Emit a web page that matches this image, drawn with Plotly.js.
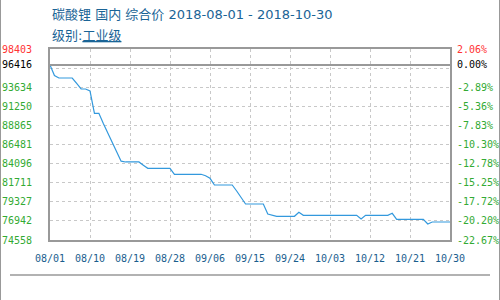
<!DOCTYPE html>
<html>
<head>
<meta charset="utf-8">
<script src="https://cdn.plot.ly/plotly-3.0.1.min.js"></script>
<style>
html,body{margin:0;padding:0;background:#fff;}
#wrap{position:relative;width:500px;height:300px;}
#chart{width:500px;height:300px;}
#frame{position:absolute;left:0;top:0;width:498px;height:300px;border-left:1px solid #999;border-right:1px solid #999;pointer-events:none;}
</style>
</head>
<body>
<div id="wrap"><div id="chart"></div><div id="frame"></div></div>
<script>
const basePrice = 96416;
const dates = [
"2018-08-01","2018-08-02","2018-08-03","2018-08-04","2018-08-05","2018-08-06","2018-08-07","2018-08-08","2018-08-09","2018-08-10",
"2018-08-11","2018-08-12","2018-08-13","2018-08-14","2018-08-15","2018-08-16","2018-08-17","2018-08-18","2018-08-19","2018-08-20",
"2018-08-21","2018-08-22","2018-08-23","2018-08-24","2018-08-25","2018-08-26","2018-08-27","2018-08-28","2018-08-29","2018-08-30",
"2018-08-31","2018-09-01","2018-09-02","2018-09-03","2018-09-04","2018-09-05","2018-09-06","2018-09-07","2018-09-08","2018-09-09",
"2018-09-10","2018-09-11","2018-09-12","2018-09-13","2018-09-14","2018-09-15","2018-09-16","2018-09-17","2018-09-18","2018-09-19",
"2018-09-20","2018-09-21","2018-09-22","2018-09-23","2018-09-24","2018-09-25","2018-09-26","2018-09-27","2018-09-28","2018-09-29",
"2018-09-30","2018-10-01","2018-10-02","2018-10-03","2018-10-04","2018-10-05","2018-10-06","2018-10-07","2018-10-08","2018-10-09",
"2018-10-10","2018-10-11","2018-10-12","2018-10-13","2018-10-14","2018-10-15","2018-10-16","2018-10-17","2018-10-18","2018-10-19",
"2018-10-20","2018-10-21","2018-10-22","2018-10-23","2018-10-24","2018-10-25","2018-10-26","2018-10-27","2018-10-28","2018-10-29",
"2018-10-30"];
const prices = [
96416,95100,94782,94782,94782,94782,94100,93409,93409,93159,
90375,90375,89114,87966,86817,85656,84400,84300,84300,84300,
84300,83900,83509,83509,83509,83509,83509,83509,82760,82760,
82760,82760,82760,82760,82760,82585,82260,81424,81424,81424,
81424,81424,80675,79801,79052,79052,79052,79052,79052,77804,
77617,77517,77517,77517,77517,77517,78016,77642,77642,77642,
77642,77642,77642,77642,77642,77642,77642,77642,77642,77642,
77180,77642,77642,77642,77642,77642,77642,77891,77142,77142,
77142,77142,77142,77142,77142,76555,76805,76805,76805,76805,
76805];

const xTickVals = ["2018-08-01","2018-08-10","2018-08-19","2018-08-28","2018-09-06","2018-09-15","2018-09-24","2018-10-03","2018-10-12","2018-10-21","2018-10-30"];
const xTickText = ["08/01","08/10","08/19","08/28","09/06","09/15","09/24","10/03","10/12","10/21","10/30"];
const yTickVals = [98403,96416,93634,91250,88865,86481,84096,81711,79327,76942,74558];
const pctTickText = ["2.06%","0.00%","-2.89%","-5.36%","-7.83%","-10.30%","-12.78%","-15.25%","-17.72%","-20.20%","-22.67%"];
const gridVals = [74558,76942,79327,81711,84096,86481,88865,91250,93634,96019,98403];
const yMin = 74558, yMax = 98403;

function colorFor(i, v){
  if (i === 0) return '#ff3333';
  if (v === basePrice) return '#000000';
  return '#33aa33';
}
const leftText = yTickVals.map((v,i)=>'<span style="color:'+colorFor(i,v)+'">'+v+'</span>');
const rightText = yTickVals.map((v,i)=>'<span style="color:'+colorFor(i,v)+'">'+pctTickText[i]+'</span>');

const monoFont = {family:'"DejaVu Sans Mono", monospace', size:10, color:'#33aa33'};

const trace = {
  x: dates, y: prices, type:'scatter', mode:'lines',
  line:{color:'#3399dd', width:1.2}, hoverinfo:'none', showlegend:false
};

const titleFont = {family:'"DejaVu Sans", "Noto Sans CJK SC", sans-serif', size:13, color:'#1a6496'};

const layout = {
  width:500, height:300,
  margin:{l:50, r:50, t:49, b:60, pad:0},
  paper_bgcolor:'#ffffff', plot_bgcolor:'#ffffff',
  showlegend:false,
  title:{text:''},
  xaxis:{
    type:'date', range:['2018-08-01','2018-10-30'],
    tickmode:'array', tickvals:xTickVals, ticktext:xTickText,
    tickfont:{family:'"DejaVu Sans Mono", monospace', size:10, color:'#1a5e8e'},
    showgrid:true, gridcolor:'#c8c8c8', gridwidth:1, griddash:'3px,3px',
    showline:true, linecolor:'#999999', linewidth:2, mirror:true,
    ticks:'outside', ticklen:8, tickcolor:'rgba(0,0,0,0)',
    zeroline:false, fixedrange:true
  },
  yaxis:{
    range:[yMin,yMax], tickmode:'array', tickvals:yTickVals, ticktext:leftText,
    tickfont:monoFont, showgrid:false,
    showline:true, linecolor:'#999999', linewidth:2,
    ticks:'outside', ticklen:14, tickcolor:'rgba(0,0,0,0)',
    zeroline:false, fixedrange:true
  },
  yaxis2:{
    overlaying:'y', side:'right', range:[yMin,yMax],
    tickmode:'array', tickvals:yTickVals, ticktext:rightText,
    tickfont:monoFont, showgrid:false,
    showline:true, linecolor:'#999999', linewidth:2,
    ticks:'outside', ticklen:3, tickcolor:'rgba(0,0,0,0)',
    zeroline:false, fixedrange:true
  },
  yaxis3:{
    overlaying:'y', range:[yMin,yMax], tickmode:'array', tickvals:gridVals,
    showticklabels:false, showgrid:true, gridcolor:'#c8c8c8', gridwidth:1, griddash:'3px,3px',
    showline:false, zeroline:false, ticks:'', fixedrange:true
  },
  shapes:[
    {type:'line', xref:'paper', yref:'y', x0:0, x1:1, y0:basePrice, y1:basePrice,
     line:{color:'#999999', width:2}},
    {type:'line', xref:'paper', yref:'paper', x0:-0.1, x1:1.1, y0:-35/191, y1:-35/191,
     line:{color:'#999999', width:1.5}}
  ],
  annotations:[
    {xref:'paper', yref:'paper', x:0, y:(240-15)/191, xanchor:'left', yanchor:'middle', showarrow:false,
     text:'碳酸锂 国内 综合价 2018-08-01 - 2018-10-30', font:titleFont},
    {xref:'paper', yref:'paper', x:0, y:(240-35)/191, xanchor:'left', yanchor:'middle', showarrow:false,
     text:'级别:<u>工业级</u>', font:titleFont}
  ]
};

const traceGrid = {x:[dates[0]], y:[prices[0]], yaxis:'y3', type:'scatter', mode:'none', hoverinfo:'none', showlegend:false};
const traceRight = {x:[dates[0]], y:[prices[0]], yaxis:'y2', type:'scatter', mode:'none', hoverinfo:'none', showlegend:false};

Plotly.newPlot('chart', [traceGrid, traceRight, trace], layout, {staticPlot:true, displayModeBar:false});
</script>
</body>
</html>
